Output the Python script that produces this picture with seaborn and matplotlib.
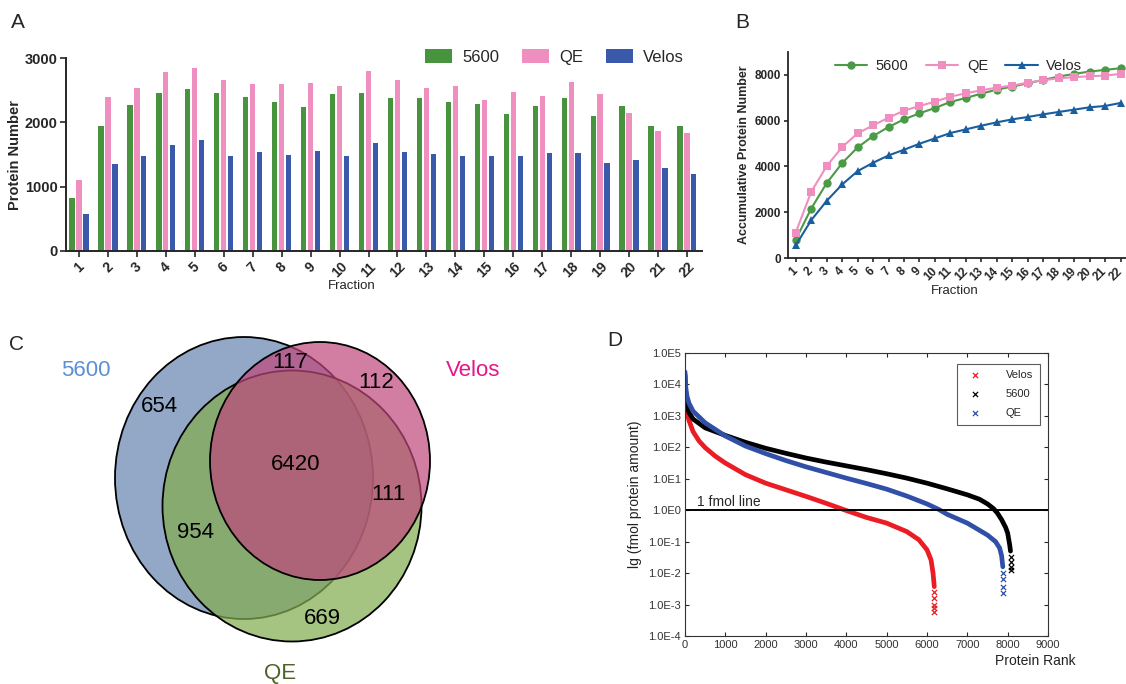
import numpy as np
import pandas as pd
import matplotlib
matplotlib.use('Agg')
import matplotlib.pyplot as plt
import matplotlib.transforms as mtransforms
from matplotlib.patches import Ellipse
from matplotlib.ticker import FixedLocator, FuncFormatter, NullLocator
import seaborn as sns

# ---- Panel A: proteins identified per fraction ----
fractions = [str(i) for i in range(1, 23)]
instruments = ['5600', 'QE', 'Velos']
per_fraction_5600 = [820, 1943, 2268, 2459, 2521, 2459, 2392, 2314, 2232, 2448, 2459,
                     2381, 2371, 2314, 2289, 2134, 2258, 2376, 2098, 2247, 1938, 1943]
per_fraction_qe = [1108, 2392, 2541, 2784, 2851, 2655, 2593, 2598, 2619, 2567, 2799,
                   2660, 2541, 2562, 2351, 2479, 2412, 2624, 2438, 2139, 1871, 1830]
per_fraction_velos = [582, 1356, 1469, 1644, 1727, 1479, 1541, 1500, 1562, 1479, 1680,
                      1536, 1505, 1469, 1474, 1474, 1531, 1531, 1371, 1407, 1294, 1191]

# ---- Panel B: accumulative protein number ----
fraction_num = list(range(1, 23))
cumulative_5600 = [803, 2161, 3270, 4146, 4832, 5328, 5723, 6058, 6321, 6555, 6818,
                   6993, 7182, 7358, 7489, 7635, 7781, 7927, 8044, 8146, 8219, 8292]
cumulative_qe = [1110, 2891, 4015, 4847, 5445, 5796, 6131, 6438, 6642, 6832, 7051,
                 7197, 7328, 7445, 7533, 7664, 7766, 7854, 7898, 7942, 7971, 8044]
cumulative_velos = [555, 1650, 2496, 3212, 3796, 4161, 4482, 4730, 4993, 5226, 5460,
                    5620, 5781, 5927, 6058, 6161, 6277, 6380, 6482, 6584, 6642, 6774]

# ---- Panel C: Venn region counts ----
venn_sets = ['5600', 'Velos', 'QE']
venn_regions = ['5600 & Velos', 'Velos only', '5600 only', 'all', 'Velos & QE', '5600 & QE', 'QE only']
venn_counts = [117, 112, 654, 6420, 111, 954, 669]

# ---- Panel D: ranked protein amount (log10 fmol) ----
velos_rank = [0, 20, 50, 100, 200, 350, 500, 750, 1000, 1500, 2000, 2500, 3000, 3500,
              4000, 4500, 5000, 5500, 5800, 6000, 6100, 6150, 6180]
velos_log = [3.6, 3.35, 3.09, 2.85, 2.5, 2.2, 1.99, 1.72, 1.5, 1.13, 0.86, 0.65, 0.44, 0.22,
             -0.01, -0.23, -0.41, -0.68, -0.94, -1.26, -1.58, -2.0, -2.43]
velos_tail_rank = [6180, 6180, 6180, 6180, 6180]
velos_tail_log = [-2.6, -2.8, -3.0, -3.12, -3.23]

ab5600_rank = [0, 20, 50, 100, 200, 500, 1000, 1500, 2000, 2500, 3000, 3500, 4000, 4500,
               5000, 5500, 6000, 6500, 7000, 7300, 7500, 7650, 7750, 7850, 7950, 8000, 8050, 8070]
ab5600_log = [4.3, 3.6, 3.3, 3.1, 2.9, 2.62, 2.38, 2.16, 1.97, 1.81, 1.66, 1.53, 1.41, 1.29,
              1.16, 1.02, 0.86, 0.68, 0.49, 0.35, 0.2, 0.05, -0.1, -0.3, -0.55, -0.73, -1.1, -1.3]
ab5600_tail_rank = [8080, 8080, 8080, 8080]
ab5600_tail_log = [-1.5, -1.65, -1.8, -1.9]

qe_rank = [0, 20, 50, 100, 200, 500, 1000, 1500, 2000, 2500, 3000, 3500, 4000, 4500, 5000,
           5500, 6000, 6300, 6500, 7000, 7500, 7700, 7800, 7850, 7880]
qe_log = [4.4, 3.9, 3.62, 3.4, 3.15, 2.78, 2.36, 2.04, 1.8, 1.58, 1.38, 1.2, 1.02, 0.85, 0.67,
          0.45, 0.2, 0.02, -0.13, -0.41, -0.79, -1.0, -1.2, -1.45, -1.8]
qe_tail_rank = [7890, 7890, 7890, 7890]
qe_tail_log = [-2.0, -2.2, -2.45, -2.62]

W, H = 1126, 684
sns.set_style('ticks')
plt.rcParams['font.family'] = ['Liberation Sans', 'DejaVu Sans']

fig = plt.figure(figsize=(W / 100, H / 100), dpi=100)


def box(left, right, top, bottom):
    return [left / W, 1 - bottom / H, (right - left) / W, (bottom - top) / H]


# ================= Panel A =================
axA = fig.add_axes(box(66, 702, 58, 251))
dfA = pd.DataFrame({
    'Fraction': fractions * 3,
    'Instrument': sum([[k] * len(fractions) for k in instruments], []),
    'Count': per_fraction_5600 + per_fraction_qe + per_fraction_velos,
})
bar_colors = {'5600': '#48933d', 'QE': '#ef8fc0', 'Velos': '#3b59aa'}
sns.barplot(data=dfA, x='Fraction', y='Count', hue='Instrument', palette=bar_colors,
            saturation=1, width=0.72, gap=0.25, errorbar=None, linewidth=0, ax=axA)
axA.set_ylim(0, 3000)
axA.set_xlim(-0.45, 21.52)
axA.set_yticks([0, 1000, 2000, 3000])
axA.set_ylabel('Protein Number', fontsize=10.5, fontweight='bold')
axA.yaxis.set_label_coords(-0.069, 0.5)
axA.set_xlabel('Fraction', fontsize=9.5)
axA.xaxis.set_label_coords(0.45, -0.15)
axA.tick_params(axis='x', rotation=45, labelsize=10, length=4, width=1.2, pad=2)
axA.tick_params(axis='y', labelsize=10.5, length=4, width=1.2, pad=2)
for lab in axA.get_xticklabels() + axA.get_yticklabels():
    lab.set_fontweight('bold')
for s in ['left', 'bottom']:
    axA.spines[s].set_linewidth(1.4)
sns.despine(ax=axA)
axA.legend(ncol=3, frameon=False, loc='center right', bbox_to_anchor=(0.995, 1.005),
           fontsize=12, handlelength=1.6, handleheight=0.9, columnspacing=1.4,
           handletextpad=0.6, title=None)

# ================= Panel B =================
axB = fig.add_axes(box(788, 1126, 52, 258))
dfB = pd.DataFrame({
    'Fraction': fraction_num * 3,
    'Instrument': sum([[k] * len(fraction_num) for k in instruments], []),
    'Total': cumulative_5600 + cumulative_qe + cumulative_velos,
})
line_colors = {'5600': '#4a9a46', 'QE': '#f08fbf', 'Velos': '#1b5e9e'}
sns.lineplot(data=dfB, x='Fraction', y='Total', hue='Instrument', style='Instrument',
             markers={'5600': 'o', 'QE': 's', 'Velos': '^'}, dashes=False,
             palette=line_colors, markersize=6, markeredgewidth=0, linewidth=1.5, ax=axB)
axB.set_xlim(0.5, 22.35)
axB.set_ylim(0, 9000)
axB.set_xticks(fraction_num)
axB.set_yticks([0, 2000, 4000, 6000, 8000])
axB.set_ylabel('Accumulative Protein Number', fontsize=9, fontweight='bold')
axB.yaxis.set_label_coords(-0.112, 0.5)
axB.set_xlabel('Fraction', fontsize=9.5)
axB.xaxis.set_label_coords(0.494, -0.13)
axB.tick_params(axis='x', labelsize=8.5, length=3, width=1.2, pad=2)
axB.tick_params(axis='y', labelsize=8.5, length=3, width=1.2, pad=2)
shift = mtransforms.ScaledTranslation(-3 / 72, 0, fig.dpi_scale_trans)
for lab in axB.get_xticklabels():
    lab.set_rotation(45)
    lab.set_ha('right')
    lab.set_rotation_mode('anchor')
    lab.set_transform(lab.get_transform() + shift)
for lab in axB.get_xticklabels() + axB.get_yticklabels():
    lab.set_fontweight('bold')
for s in ['left', 'bottom']:
    axB.spines[s].set_linewidth(1.3)
sns.despine(ax=axB)
axB.legend(ncol=3, frameon=False, loc='center left', bbox_to_anchor=(0.1, 0.93),
           fontsize=10.5, handlelength=2.2, columnspacing=1.2, handletextpad=0.6, title=None)

# ================= Panel C (Venn) =================
axC = fig.add_axes([0, 0, 560 / W, 394 / H])
axC.set_xlim(0, 560)
axC.set_ylim(684, 290)
axC.axis('off')
circles = {
    '5600': dict(xy=(244, 478), width=258, height=282, fc=(0x92 / 255, 0xa8 / 255, 0xc6 / 255, 1.0)),
    'QE': dict(xy=(292, 506), width=259, height=271, fc=(0x83 / 255, 0xac / 255, 0x51 / 255, 0.72)),
    'Velos': dict(xy=(320, 461), width=220, height=238, fc=(0xbf / 255, 0x47 / 255, 0x7c / 255, 0.70)),
}
for name in ['5600', 'QE', 'Velos']:
    c = circles[name]
    axC.add_patch(Ellipse(c['xy'], c['width'], c['height'], facecolor=c['fc'],
                          edgecolor='black', linewidth=1.3))
set_label_style = {'5600': ((86, 370), '#5b8fd4'), 'Velos': ((473, 370), '#e8148a'),
                   'QE': ((280, 673), '#4f6228')}
for name in venn_sets:
    (x, y), col = set_label_style[name]
    axC.text(x, y, name, color=col, fontsize=16, ha='center', va='center')
region_pos = [(290, 362), (376, 382), (159, 407), (296, 465), (388, 494), (195, 533), (322, 618)]
for (x, y), n in zip(region_pos, venn_counts):
    axC.text(x, y, str(n), fontsize=16, ha='center', va='center', color='black')

# ================= Panel D =================
axD = fig.add_axes(box(685, 1048, 353, 636))
d_series = [
    ('Velos', velos_rank, velos_log, velos_tail_rank, velos_tail_log, '#ec1c24'),
    ('5600', ab5600_rank, ab5600_log, ab5600_tail_rank, ab5600_tail_log, '#000000'),
    ('QE', qe_rank, qe_log, qe_tail_rank, qe_tail_log, '#3050a8'),
]
for name, rk, lg, trk, tlg, col in d_series:
    sns.lineplot(x=rk, y=10 ** np.array(lg), color=col, linewidth=3.4, sort=False,
                 estimator=None, ax=axD)
    sns.scatterplot(x=trk, y=10 ** np.array(tlg), marker='x', color=col, s=14,
                    linewidth=0.9, label=name, ax=axD)
axD.axhline(1.0, color='black', linewidth=1.4)
axD.text(300, 1.12, '1 fmol line', fontsize=10, ha='left', va='bottom')
axD.set_yscale('log')
axD.set_ylim(1e-4, 1e5)
axD.set_xlim(0, 9000)
axD.yaxis.set_major_locator(FixedLocator([10.0 ** k for k in range(-4, 6)]))
axD.yaxis.set_minor_locator(NullLocator())
axD.yaxis.set_major_formatter(FuncFormatter(lambda v, p: f"1.0E{int(round(np.log10(v)))}"))
axD.set_xticks(range(0, 9001, 1000))
axD.tick_params(direction='in', top=True, right=True, length=3, width=0.8,
                labelsize=8, labelcolor='#333333', pad=3)
for s in axD.spines.values():
    s.set_linewidth(0.8)
    s.set_color('#333333')
axD.set_ylabel('lg (fmol protein amount)', fontsize=10, color='#222222')
axD.yaxis.set_label_coords(-0.118, 0.5)
axD.set_xlabel('')
axD.text(1.075, -0.065, 'Protein Rank', transform=axD.transAxes, ha='right', va='top',
         fontsize=10, color='#222222')
leg = axD.legend(loc='upper right', bbox_to_anchor=(0.993, 0.982), fontsize=8,
                 frameon=True, fancybox=False, handletextpad=1.8, borderpad=0.6,
                 labelspacing=0.8, markerscale=1.0)
leg.get_frame().set_edgecolor('#333333')
leg.get_frame().set_linewidth(0.8)

# panel letters
for letter, (x, y) in {'A': (18, 22), 'B': (742, 23), 'C': (16, 345), 'D': (615, 341)}.items():
    fig.text(x / W, 1 - y / H, letter, fontsize=15, ha='center', va='center')

fig.savefig('out.png', dpi=100)
